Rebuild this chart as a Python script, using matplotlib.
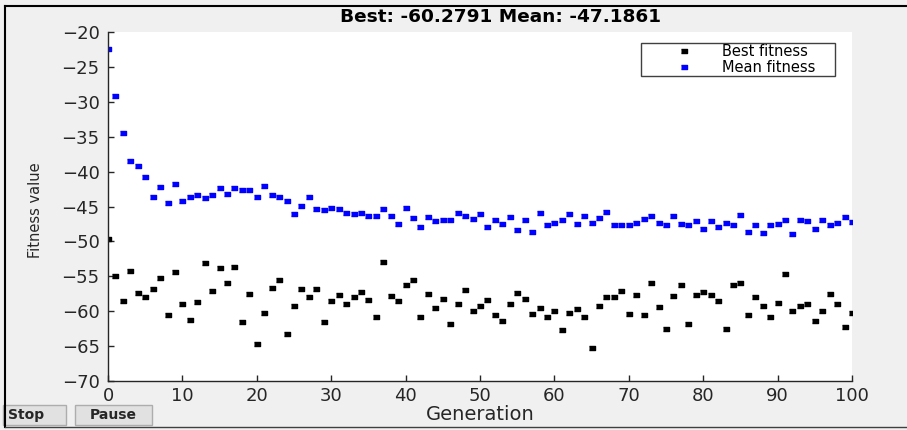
import matplotlib
matplotlib.use("Agg")
import matplotlib.pyplot as plt
from matplotlib.lines import Line2D
from matplotlib.patches import Rectangle
import numpy as np

generations = list(range(0, 101))

best_fitness = [
    -49.7, -54.9, -58.6, -54.2, -57.4, -57.9, -56.8, -55.2, -60.5, -54.4,
    -59.0, -61.2, -58.7, -53.1, -57.1, -53.8, -55.9, -53.6, -61.5, -57.5,
    -64.7, -60.2, -56.7, -55.5, -63.3, -59.3, -56.8, -58.0, -56.8, -61.6,
    -58.6, -57.7, -59.0, -58.0, -57.2, -58.4, -60.8, -53.0, -57.8, -58.6,
    -56.2, -55.6, -60.8, -57.5, -59.6, -58.2, -61.8, -58.9, -57.0, -60.0,
    -59.3, -58.4, -60.6, -61.4, -59.0, -57.4, -58.3, -60.4, -59.6, -60.9,
    -59.9, -62.7, -60.2, -59.7, -60.9, -65.3, -59.3, -58.0, -58.0, -57.1,
    -60.4, -57.7, -60.5, -55.9, -59.4, -62.5, -57.8, -56.3, -61.8, -57.7,
    -57.3, -57.7, -58.5, -62.6, -56.3, -55.9, -60.6, -58.0, -59.2, -60.8,
    -58.8, -54.7, -59.9, -59.2, -59.0, -61.4, -60.0, -57.5, -59.0, -62.2,
    -60.28,
]

mean_fitness = [
    -22.5, -29.2, -34.5, -38.5, -39.2, -40.8, -43.6, -42.2, -44.5, -41.8,
    -44.2, -43.6, -43.4, -43.8, -43.4, -42.3, -43.2, -42.4, -42.7, -42.6,
    -43.6, -42.0, -43.3, -43.7, -44.2, -46.1, -44.9, -43.7, -45.4, -45.5,
    -45.2, -45.4, -45.9, -46.1, -45.9, -46.4, -46.4, -45.4, -46.4, -47.5,
    -45.2, -46.7, -48.0, -46.5, -47.1, -47.0, -47.0, -45.9, -46.3, -46.8,
    -46.1, -47.9, -47.0, -47.5, -46.5, -48.3, -47.0, -48.6, -45.9, -47.7,
    -47.3, -47.0, -46.1, -47.5, -46.3, -47.4, -46.7, -45.8, -47.7, -47.7,
    -47.7, -47.4, -46.8, -46.4, -47.3, -47.7, -46.4, -47.5, -47.7, -47.1,
    -48.2, -47.1, -48.0, -47.4, -47.7, -46.2, -48.6, -47.7, -48.8, -47.7,
    -47.5, -47.0, -48.9, -47.0, -47.1, -48.2, -47.0, -47.7, -47.4, -46.5,
    -47.19,
]

title_text = "Best: -60.2791 Mean: -47.1861"
x_ticks = list(range(0, 101, 10))
y_ticks = list(range(-70, -19, 5))

W, H = 907, 430
fig = plt.figure(figsize=(W / 100, H / 100), dpi=100)
fig.patch.set_facecolor("#f0f0f0")

def fx(px):
    return px / W

def fy(py):
    return 1 - py / H

left, right, top, bottom = 108, 852, 32, 381
ax = fig.add_axes([fx(left), fy(bottom), fx(right) - fx(left), fy(top) - fy(bottom)])
ax.set_facecolor("white")

rect_marker = [(-1.7, -1), (1.7, -1), (1.7, 1), (-1.7, 1)]
ax.plot(generations, best_fitness, linestyle="none", marker=rect_marker,
        markersize=4, color="black", label="Best fitness")
ax.plot(generations, mean_fitness, linestyle="none", marker=rect_marker,
        markersize=4, color="#0000ff", label="Mean fitness")

ax.set_xlim(0, 100)
ax.set_ylim(-70, -20)
ax.set_xticks(x_ticks)
ax.set_yticks(y_ticks)
ax.tick_params(direction="in", length=4, width=1, colors="#262626",
               labelsize=13, labelcolor="#262626")
ax.tick_params(axis="y", pad=6)
ax.tick_params(axis="x", pad=4)
for s in ["top", "right"]:
    ax.spines[s].set_visible(False)
for s in ["left", "bottom"]:
    ax.spines[s].set_color("#262626")
    ax.spines[s].set_linewidth(1)

ax.set_xlabel("Generation", fontsize=14, color="#262626")
ax.xaxis.set_label_coords(0.501, -0.068)
ax.set_ylabel("Fitness value", fontsize=10.5, color="#262626")
ax.yaxis.set_label_coords(-0.087, 0.49)

fig.text(fx(500), fy(17), title_text, ha="center", va="center",
         fontsize=13.3, fontweight="bold", color="#000000")

# legend box
fig.add_artist(Rectangle((fx(641), fy(76)), fx(835) - fx(641), fy(43) - fy(76),
                         transform=fig.transFigure, facecolor="white",
                         edgecolor="#404040", lw=1, zorder=4))
leg = fig.legend(*ax.get_legend_handles_labels(), loc="center left",
                 bbox_to_anchor=(fx(645), fy(59.5)), bbox_transform=fig.transFigure,
                 fontsize=10.5, frameon=False, handlelength=5.3,
                 handletextpad=0.0, borderpad=0.0, labelspacing=0.05,
                 borderaxespad=0)
leg.set_zorder(5)

# window frame lines
fig.add_artist(Line2D([fx(5), fx(907)], [fy(6), fy(6)], color="black", lw=1.5))
fig.add_artist(Line2D([fx(5), fx(5)], [fy(6), fy(427)], color="black", lw=1.5))
fig.add_artist(Line2D([fx(5), fx(907)], [fy(427), fy(427)], color="#404040", lw=1))

# buttons
for (x0, x1, label, tx, ha) in [(3, 66, "Stop", 8, "left"), (75, 152, "Pause", 113.5, "center")]:
    fig.add_artist(Rectangle((fx(x0), fy(425)), fx(x1) - fx(x0), fy(405) - fy(425),
                             transform=fig.transFigure, facecolor="#e1e1e1",
                             edgecolor="#adadad", lw=1))
    fig.text(fx(tx), fy(415), label, ha=ha, va="center", fontsize=10,
             fontweight="bold", color="#262626")

fig.savefig("out.png", dpi=100, facecolor=fig.get_facecolor())
